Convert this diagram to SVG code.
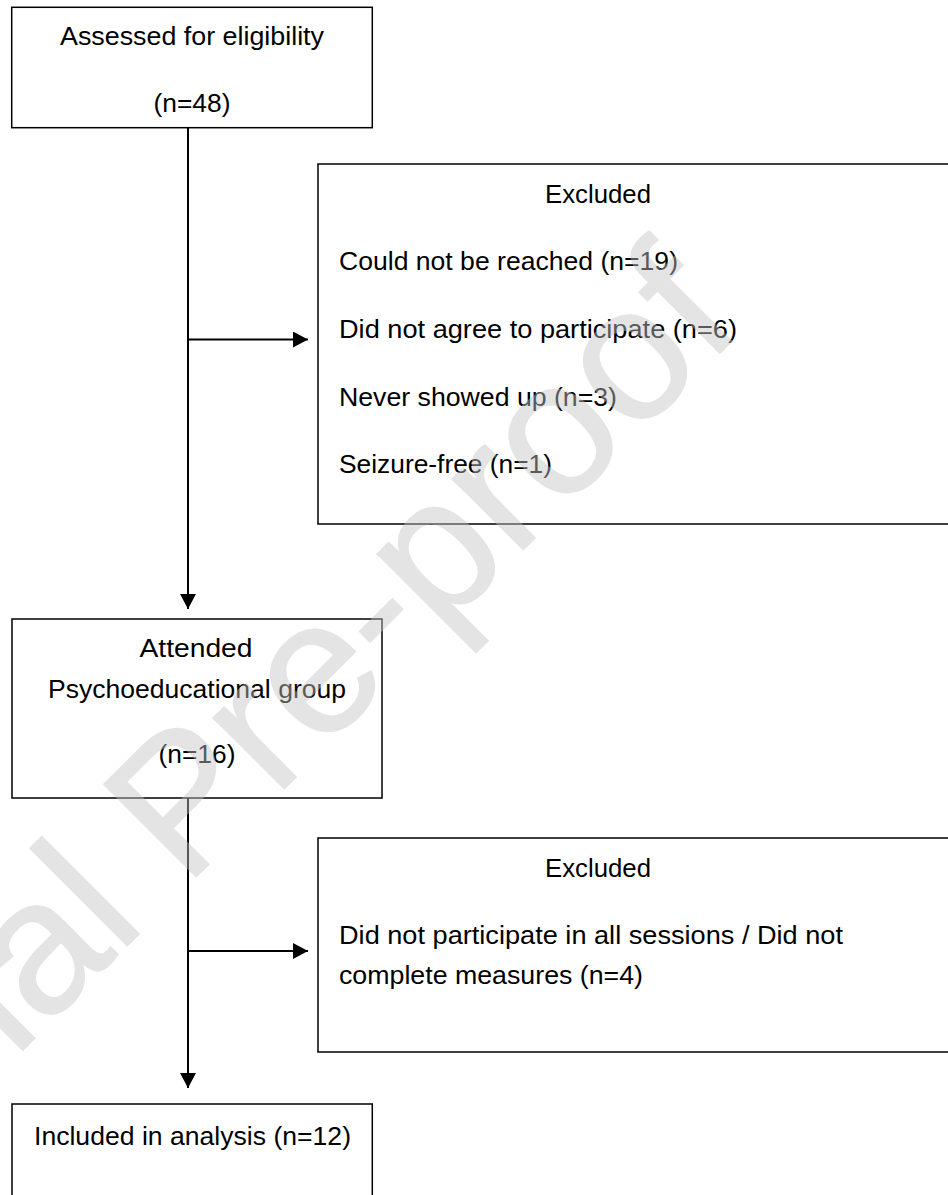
<svg xmlns="http://www.w3.org/2000/svg" width="948" height="1195" viewBox="0 0 948 1195">
<style>
.box{fill:#fff;stroke:#000;stroke-width:1.5}
.t{font-family:"Liberation Sans",Arial,sans-serif;font-size:26px;fill:#000}
.c{text-anchor:middle}
.conn{stroke:#000;stroke-width:2;fill:none}
.wm{font-family:"Liberation Sans",Arial,sans-serif;font-size:190px;fill:#c4c4c4;stroke:#c4c4c4;stroke-width:1.5}
</style>
<defs>
<marker id="arr" viewBox="0 0 15 16" refX="15" refY="8" markerWidth="15" markerHeight="16" markerUnits="userSpaceOnUse" orient="auto">
<path d="M0,0 L15,8 L0,16 Z" fill="#000"/>
</marker>
</defs>
<rect width="948" height="1195" fill="#fff"/>
<g id="connectors">
<line class="conn" x1="188" y1="128" x2="188" y2="609" marker-end="url(#arr)"/>
<line class="conn" x1="188" y1="339.5" x2="308" y2="339.5" marker-end="url(#arr)"/>
<line class="conn" x1="188" y1="798" x2="188" y2="1088" marker-end="url(#arr)"/>
<line class="conn" x1="188" y1="951" x2="308" y2="951" marker-end="url(#arr)"/>
</g>
<g id="assessed">
<rect class="box" x="11.7" y="7.3" width="360.6" height="120.4"/>
<text class="t c" x="192" y="45" textLength="264" lengthAdjust="spacingAndGlyphs">Assessed for eligibility</text>
<text class="t c" x="192" y="112" textLength="77" lengthAdjust="spacingAndGlyphs">(n=48)</text>
</g>
<g id="excluded1">
<rect class="box" x="318" y="164" width="660" height="360"/>
<text class="t c" x="598" y="203" textLength="106" lengthAdjust="spacingAndGlyphs">Excluded</text>
<text class="t" x="339" y="270" textLength="339" lengthAdjust="spacingAndGlyphs">Could not be reached (n=19)</text>
<text class="t" x="339" y="338" textLength="398" lengthAdjust="spacingAndGlyphs">Did not agree to participate (n=6)</text>
<text class="t" x="339" y="406" textLength="278" lengthAdjust="spacingAndGlyphs">Never showed up (n=3)</text>
<text class="t" x="339" y="473" textLength="213" lengthAdjust="spacingAndGlyphs">Seizure-free (n=1)</text>
</g>
<g id="attended">
<rect class="box" x="12" y="619" width="370" height="179"/>
<text class="t c" x="196" y="657" textLength="113" lengthAdjust="spacingAndGlyphs">Attended</text>
<text class="t c" x="197" y="698" textLength="298" lengthAdjust="spacingAndGlyphs">Psychoeducational group</text>
<text class="t c" x="197" y="763" textLength="77" lengthAdjust="spacingAndGlyphs">(n=16)</text>
</g>
<g id="excluded2">
<rect class="box" x="318" y="838" width="660" height="214"/>
<text class="t c" x="598" y="877" textLength="106" lengthAdjust="spacingAndGlyphs">Excluded</text>
<text class="t" x="339" y="944" textLength="504" lengthAdjust="spacingAndGlyphs">Did not participate in all sessions / Did not</text>
<text class="t" x="339" y="984" textLength="304" lengthAdjust="spacingAndGlyphs">complete measures (n=4)</text>
</g>
<g id="included">
<rect class="box" x="12" y="1104" width="360.3" height="120"/>
<text class="t c" x="192.5" y="1145" textLength="317" lengthAdjust="spacingAndGlyphs">Included in analysis (n=12)</text>
</g>
<g id="watermark" opacity="0.45">
<text class="wm" transform="translate(-292.6,1365.6) rotate(-45)" x="0" y="0">Journal Pre-proof</text>
</g>
</svg>
